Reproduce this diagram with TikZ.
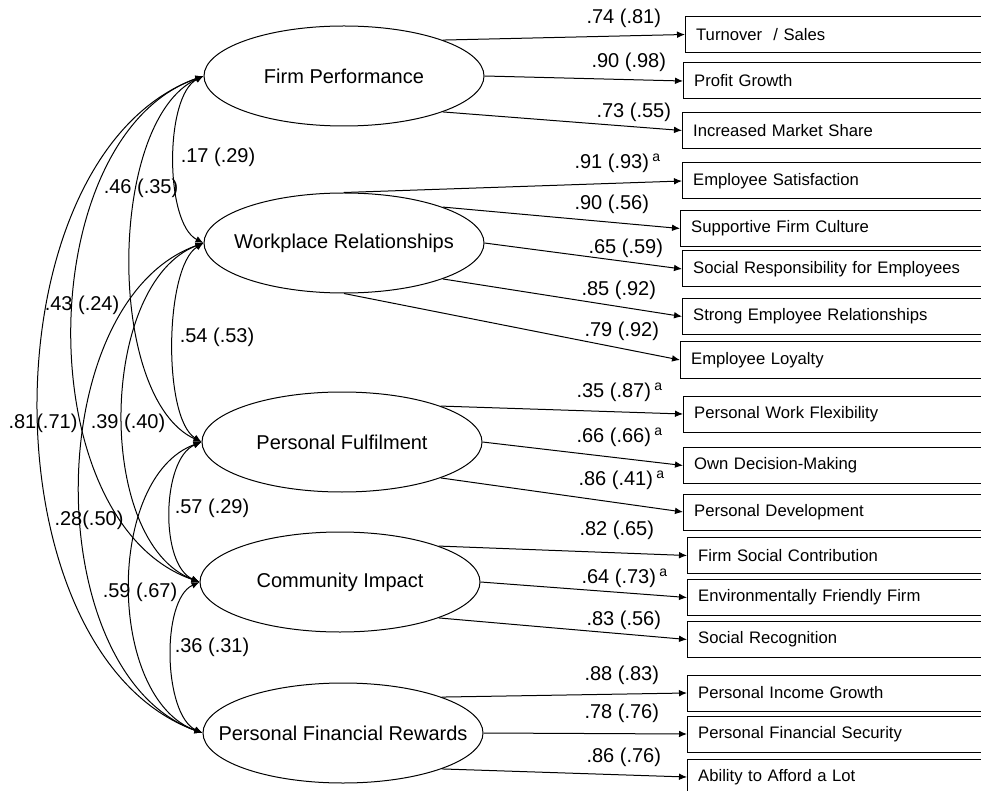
\documentclass[tikz,border=0pt]{standalone}
\usepackage{fontspec}
\setmainfont{Liberation Sans}
\usetikzlibrary{arrows.meta,shapes.geometric}

\tikzset{every picture/.style={line width=0.75pt}}
\tikzset{
  factor/.style={draw, ellipse, minimum width=210pt, minimum height=75pt, inner sep=0pt,
    label={[font=\fontsize{15}{18}\selectfont]center:#1}},
  item/.style={draw, rectangle, anchor=west, text width=240pt, align=left, inner xsep=8pt,
    inner ysep=0pt, minimum height=27pt, font=\fontsize{12.5}{15}\selectfont},
  load/.style={-{Latex[length=6pt,width=5pt]}},
  cov/.style={{Latex[length=6pt,width=5pt]}-{Latex[length=6pt,width=5pt]}},
  coef/.style={inner sep=0.75pt, font=\fontsize{15}{18}\selectfont},
}

\begin{document}
\begin{tikzpicture}[x=0.75pt,y=0.75pt,yscale=-1,xscale=1]
\useasboundingbox (0,0) rectangle (981,791);
\clip (0,0) rectangle (981,791);

%Shape: Ellipse
\node [factor=Firm Performance] (fp) at (344,76) {};
%Shape: Ellipse
\node [factor=Workplace Relationships] (wr) at (344,243) {};
%Shape: Ellipse
\node [factor=Personal Fulfilment] (pf) at (342,442) {};
%Shape: Ellipse
\node [factor=Community Impact] (ci) at (340,582) {};
%Shape: Ellipse
\node [factor=Personal Financial Rewards] (pfr) at (343,733) {};

%Shape: Rectangle
\node [item] (turn) at (685,34.5) {Turnover \ / Sales};
\node [item] (prof) at (683,81) {Profit Growth};
\node [item] (mkt) at (682,130.5) {Increased Market Share};
\node [item] (esat) at (682,181) {Employee Satisfaction};
\node [item] (cult) at (680,228.5) {Supportive Firm Culture};
\node [item] (resp) at (682,269) {Social Responsibility for Employees};
\node [item] (rel) at (682,316.5) {Strong Employee Relationships};
\node [item] (loy) at (680,360) {Employee Loyalty};
\node [item] (flex) at (683,414) {Personal Work Flexibility};
\node [item] (dec) at (683,465.5) {Own Decision-Making};
\node [item] (dev) at (683,512) {Personal Development};
\node [item] (soc) at (687,555.5) {Firm Social Contribution};
\node [item] (env) at (687,597.5) {Environmentally Friendly Firm};
\node [item] (rec) at (687,639.5) {Social Recognition};
\node [item] (inc) at (687,693) {Personal Income Growth};
\node [item] (sec) at (687,734) {Personal Financial Security};
\node [item] (aff) at (687,777) {Ability to Afford a Lot};

%Straight Lines
\draw [load] (fp.20) -- (turn.west);
\draw [load] (fp.east) -- (prof.west);
\draw [load] (fp.-20) -- (mkt.west);
\draw [load] (wr.north) -- (esat.west);
\draw [load] (wr.20) -- (cult.west);
\draw [load] (wr.east) -- (resp.west);
\draw [load] (wr.-20) -- (rel.west);
\draw [load] (wr.south) -- (loy.west);
\draw [load] (pf.20) -- (flex.west);
\draw [load] (pf.east) -- (dec.west);
\draw [load] (pf.-20) -- (dev.west);
\draw [load] (ci.20) -- (soc.west);
\draw [load] (ci.east) -- (env.west);
\draw [load] (ci.-20) -- (rec.west);
\draw [load] (pfr.20) -- (inc.west);
\draw [load] (pfr.east) -- (sec.west);
\draw [load] (pfr.-20) -- (aff.west);

%Curve Lines
\draw [cov] (fp.west) .. controls +(-39,20) and +(-39,-20) .. (wr.west);
\draw [cov] (fp.west) .. controls +(-96,44) and +(-96,-44) .. (pf.west);
\draw [cov] (fp.west) .. controls +(-172,60) and +(-172,-60) .. (ci.west);
\draw [cov] (fp.west) .. controls +(-219,79) and +(-219,-79) .. (pfr.west);
\draw [cov] (wr.west) .. controls +(-39,24) and +(-39,-24) .. (pf.west);
\draw [cov] (wr.west) .. controls +(-105,40) and +(-105,-40) .. (ci.west);
\draw [cov] (wr.west) .. controls +(-164,59) and +(-164,-59) .. (pfr.west);
\draw [cov] (pf.west) .. controls +(-40,17) and +(-40,-17) .. (ci.west);
\draw [cov] (pf.west) .. controls +(-96,35) and +(-96,-35) .. (pfr.west);
\draw [cov] (ci.west) .. controls +(-39,18) and +(-39,-18) .. (pfr.west);

% Text Node
\draw (585,18) node [coef, anchor=west] (l1) {.74 (.81)};
\draw (590,62) node [coef, anchor=west] (l2) {.90 (.98)};
\draw (595,112) node [coef, anchor=west] (l3) {.73 (.55)};
\draw (573,163) node [coef, anchor=west] (l4) {.91 (.93)\,\textsuperscript{a}};
\draw (573,204) node [coef, anchor=west] (l5) {.90 (.56)};
\draw (587,248) node [coef, anchor=west] (l6) {.65 (.59)};
\draw (580,290) node [coef, anchor=west] (l7) {.85 (.92)};
\draw (583,331) node [coef, anchor=west] (l8) {.79 (.92)};
\draw (575,392) node [coef, anchor=west] (l9) {.35 (.87)\,\textsuperscript{a}};
\draw (575,437) node [coef, anchor=west] (l10) {.66 (.66)\,\textsuperscript{a}};
\draw (577,480) node [coef, anchor=west] (l11) {.86 (.41)\,\textsuperscript{a}};
\draw (578,530) node [coef, anchor=west] (l12) {.82 (.65)};
\draw (580,578) node [coef, anchor=west] (l13) {.64 (.73)\,\textsuperscript{a}};
\draw (585,620) node [coef, anchor=west] (l14) {.83 (.56)};
\draw (583,675) node [coef, anchor=west] (l15) {.88 (.83)};
\draw (583,713) node [coef, anchor=west] (l16) {.78 (.76)};
\draw (585,757) node [coef, anchor=west] (l17) {.86 (.76)};

% Text Node
\draw (218,157) node [coef] (r1) {.17 (.29)};
\draw (141,188) node [coef] (r2) {.46 (.35)};
\draw (82,305) node [coef] (r3) {.43 (.24)};
\draw (43,423) node [coef] (r4) {.81(.71)};
\draw (217,337) node [coef] (r5) {.54 (.53)};
\draw (128,423) node [coef] (r6) {.39 (.40)};
\draw (89,520) node [coef] (r7) {.28(.50)};
\draw (212,508) node [coef] (r8) {.57 (.29)};
\draw (140,592) node [coef] (r9) {.59 (.67)};
\draw (212,647) node [coef] (r10) {.36 (.31)};

\end{tikzpicture}
\end{document}
